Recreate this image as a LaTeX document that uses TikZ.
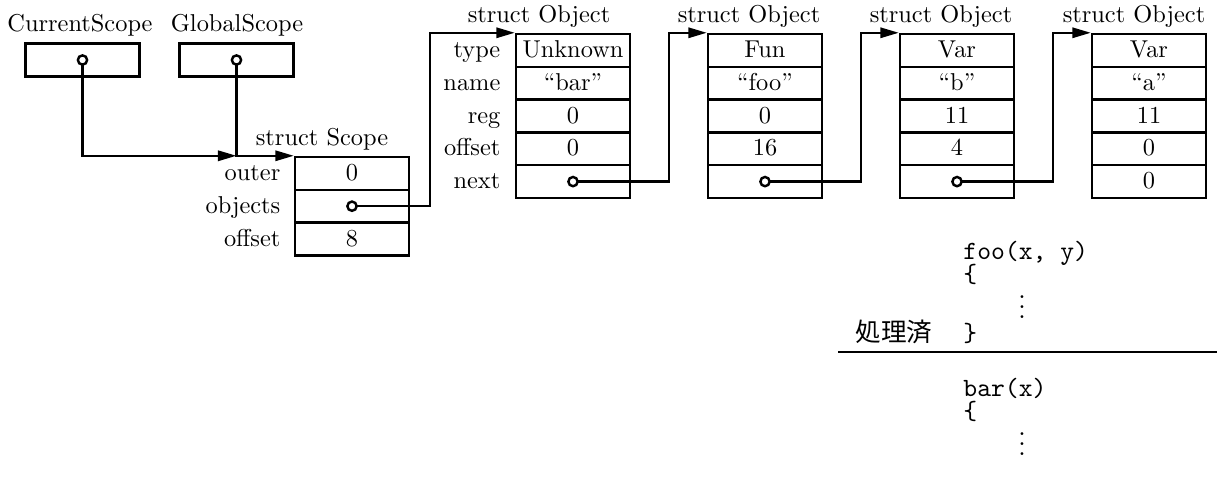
\documentclass[tikz,border=0pt]{standalone}
\usepackage{fontspec}
\newfontfamily\cjk{Noto Sans CJK JP}
\usetikzlibrary{arrows.meta,calc}

\begin{document}
\begin{tikzpicture}[x=0.41pt,y=-0.41pt,
  cell/.style={draw,line width=1pt,minimum width=46.7pt,minimum height=13.45pt,
    inner sep=0pt,text height=1.6ex,text depth=.25ex},
  fld/.style={anchor=east,inner sep=0pt,text height=1.6ex,text depth=.25ex},
  ptr/.style={line width=1pt,-{Triangle[length=7.6pt,width=4.2pt]}},
  ref/.style={circle,draw,line width=1pt,fill=white,inner sep=0pt,minimum size=3.8pt},
  hdr/.style={inner sep=0pt},
  code/.style={anchor=base west,inner sep=0pt,font=\fontsize{10.8}{13}\ttfamily},
  vd/.style={inner sep=0pt,font=\fontsize{12}{14}\selectfont}]

\useasboundingbox (0,0) rectangle (1219,497);

% root pointers
\node[hdr] (curlbl) at (80,25) {CurrentScope};
\node[hdr] (globlbl) at (237,25) {GlobalScope};
\node[cell] (cur) at (82.5,60) {};
\node[cell] (glob) at (236.5,60) {};

% struct Scope
\node[hdr] (sclbl) at (322,139) {struct Scope};
\node[cell] (sc-outer) at (352,173.4) {0};
\node[cell] (sc-obj) at (352,206.2) {};
\node[cell] (sc-off) at (352,239) {8};
\node[fld] (l-outer) at ($(sc-outer.west)+(-13,0)$) {outer};
\node[fld] (l-objects) at ($(sc-obj.west)+(-13,0)$) {objects};
\node[fld] (l-scoff) at ($(sc-off.west)+(-13,0)$) {offset};

% struct Object list
\foreach \n/\x/\hx/\vt/\vn/\vr/\vo/\vx in {
    1/573/539/Unknown/“bar”/0/0/{},
    2/765/749/Fun/“foo”/0/16/{},
    3/957/941/Var/“b”/11/4/{},
    4/1149/1134/Var/“a”/11/0/0}{
  \node[hdr] (o\n-lbl) at (\hx,16) {struct Object};
  \node[cell] (o\n-type) at (\x,50.4) {\vt};
  \node[cell] (o\n-name) at (\x,83.2) {\vn};
  \node[cell] (o\n-reg) at (\x,116) {\vr};
  \node[cell] (o\n-off) at (\x,148.8) {\vo};
  \node[cell] (o\n-next) at (\x,181.6) {\vx};
}
\node[fld] (l-type) at ($(o1-type.west)+(-14,0)$) {type};
\node[fld] (l-name) at ($(o1-name.west)+(-14,0)$) {name};
\node[fld] (l-reg) at ($(o1-reg.west)+(-14,0)$) {reg};
\node[fld] (l-off) at ($(o1-off.west)+(-14,0)$) {offset};
\node[fld] (l-next) at ($(o1-next.west)+(-14,0)$) {next};

% pointers
\draw[ptr] (cur.center) |- (glob.center |- sc-outer.north west);
\draw[ptr] (glob.center) |- (sc-outer.north west);
\coordinate (j0) at ($(sc-obj.east)+(20,0)$);
\draw[ptr] (sc-obj.center) -- (j0) |- (o1-type.north west);
\foreach \a/\b in {1/2,2/3,3/4}{
  \coordinate (j\a) at ($(o\a-next.east)+(38,0)$);
  \draw[ptr] (o\a-next.center) -- (j\a) |- (o\b-type.north west);
}
\node[ref] (cur-ref) at (cur.center) {};
\node[ref] (glob-ref) at (glob.center) {};
\node[ref] (sc-ref) at (sc-obj.center) {};
\foreach \a in {1,2,3}{\node[ref] (o\a-ref) at (o\a-next.center) {};}

% source listing
\node[code] (foo) at (963,260) {foo(x, y)};
\node[code] (ob1) at (963,283) {\{};
\node[vd] (vd1) at (1022,300) {$\vdots$};
\node[code] (cb1) at (963,342) {\}};
\node[anchor=base west,inner sep=0pt,font=\fontsize{10.5}{12}\cjk] (done) at (855,342) {処理済};
\coordinate (sepL) at (838,352);
\coordinate (sepR) at (1217,352);
\draw[line width=0.5pt] (sepL) -- (sepR);
\node[code] (bar) at (963,397) {bar(x)};
\node[code] (ob2) at (963,420) {\{};
\node[vd] (vd2) at (1022,437) {$\vdots$};
\end{tikzpicture}
\end{document}
